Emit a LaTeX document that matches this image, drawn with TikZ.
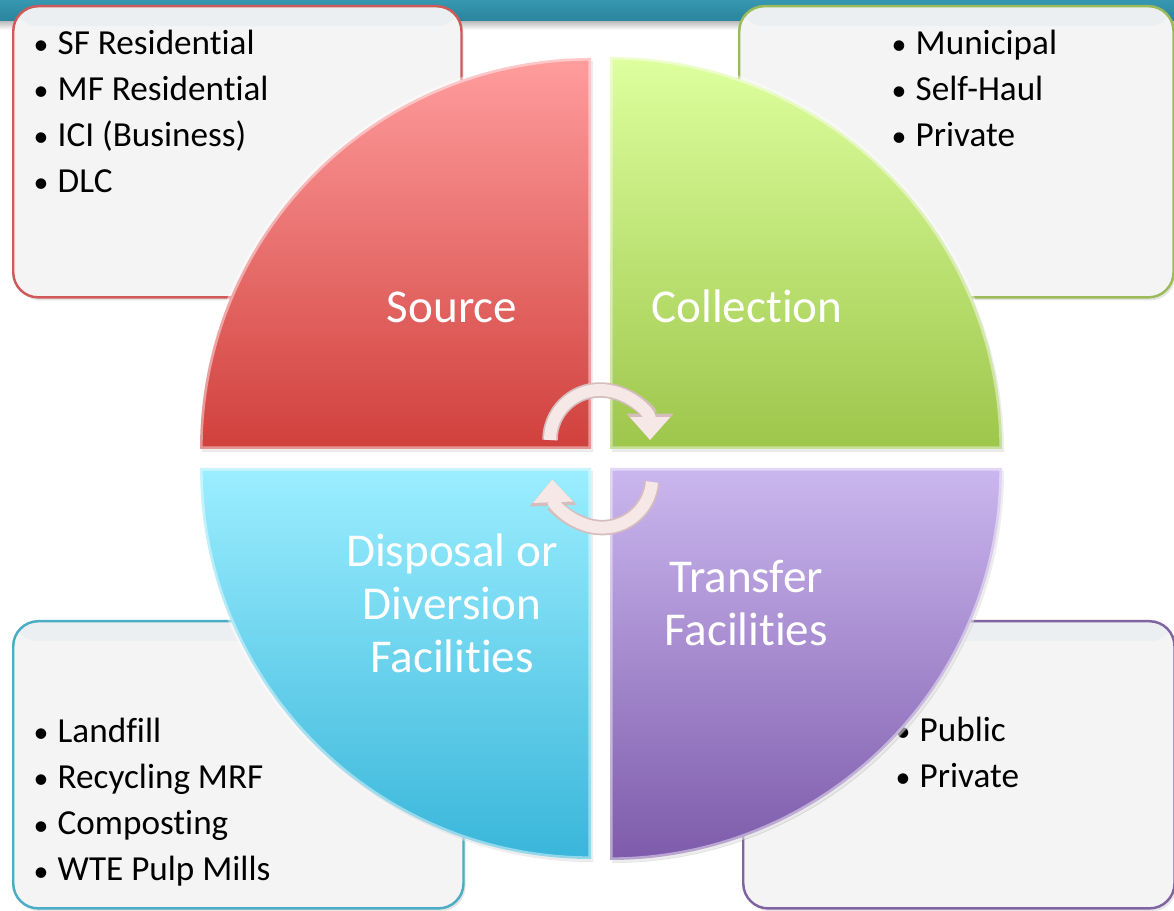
\documentclass[tikz,border=0pt]{standalone}
\usepackage{fontspec}
\setmainfont{Carlito}[Ligatures={NoCommon,NoContextual}, RawFeature={-calt}]
\usetikzlibrary{arrows.meta,shadows}

\definecolor{barlight}{HTML}{3797B1}
\definecolor{bardark}{HTML}{2A849D}
\definecolor{boxgray}{HTML}{F4F4F4}
\definecolor{boxband}{HTML}{EBEFF1}
\definecolor{srcline}{HTML}{D05A5A}
\definecolor{colline}{HTML}{9BBB59}
\definecolor{disline}{HTML}{4BACC6}
\definecolor{trfline}{HTML}{8064A2}
\definecolor{srctop}{HTML}{FF9D9D}
\definecolor{srcbot}{HTML}{D0403C}
\definecolor{coltop}{HTML}{DEFF9E}
\definecolor{colbot}{HTML}{9DC64B}
\definecolor{distop}{HTML}{9CEEFF}
\definecolor{disbot}{HTML}{39B6DA}
\definecolor{trftop}{HTML}{CBB7EF}
\definecolor{trfbot}{HTML}{7D5BAB}
\definecolor{arrowfill}{HTML}{F7E8E8}
\definecolor{arrowedge}{HTML}{D6BDBD}

\newcommand{\itembullet}{\makebox[0.24cm][l]{\scalebox{0.85}{\textbullet}}}

\tikzset{
  infobox/.style={line width=0.7pt, rounded corners=0.25cm, fill=boxgray, anchor=north west,
    drop shadow={opacity=0.2, shadow xshift=0.02cm, shadow yshift=-0.03cm},
    path picture={\fill[boxband] (path picture bounding box.north west) rectangle ([yshift=-0.2cm]path picture bounding box.north east);}},
  item/.style={anchor=base west, inner sep=0pt, font=\fontsize{10}{12}\selectfont},
  quadrant/.style={draw=white, draw opacity=0.45, line width=1.5pt,
    drop shadow={opacity=0.25, shadow xshift=0.02cm, shadow yshift=-0.03cm}},
  seglabel/.style={text=white, align=center, inner sep=0pt, font=\fontsize{13.4}{15.1}\selectfont},
  cyclearrow/.style={draw=arrowfill, line width=3.4pt, -{Triangle[width=11pt,length=6.5pt]},
    preaction={draw=arrowedge, line width=4.4pt, -{Triangle[width=13pt,length=7.5pt]}}}
}

\begin{document}
\begin{tikzpicture}[x=0.01cm,y=0.01cm]
    \clip (0,0) rectangle (1174,910);
    \fill[white] (0,0) rectangle (1174,910);
    \shade[top color=black!30, bottom color=white] (0,880) rectangle (1174,890);
    \shade[top color=barlight, bottom color=bardark] (0,889) rectangle (1174,910);

    \node[infobox, draw=srcline, minimum width=4.48cm, minimum height=2.91cm] (srcbox) at (12,905) {};
    \node[infobox, draw=colline, minimum width=4.34cm, minimum height=2.91cm] (colbox) at (738,905) {};
    \node[infobox, draw=disline, minimum width=4.50cm, minimum height=2.87cm] (disbox) at (12,290) {};
    \node[infobox, draw=trfline, minimum width=4.31cm, minimum height=2.87cm] (trfbox) at (742,290) {};

    \foreach \entry [count=\i] in {SF Residential, MF Residential, ICI (Business), DLC}
        \node[item] (src\i) at (33,901-46*\i) {\itembullet\entry};
    \foreach \entry [count=\i] in {Municipal, Self-Haul, Private}
        \node[item] (col\i) at (891,901-46*\i) {\itembullet\entry};
    \foreach \entry [count=\i] in {Landfill, Recycling MRF, Composting, WTE Pulp Mills}
        \node[item] (dis\i) at (33,213-46*\i) {\itembullet\entry};
    \foreach \entry [count=\i] in {Public, Private}
        \node[item] (trf\i) at (895,214-46*\i) {\itembullet\entry};

    \shade[quadrant, top color=srctop, bottom color=srcbot] (591,461) -- (200,461) arc[start angle=180, end angle=90, radius=391] -- cycle;
    \shade[quadrant, top color=coltop, bottom color=colbot] (610,461) -- (610,853) arc[start angle=90, end angle=0, radius=392] -- cycle;
    \shade[quadrant, top color=distop, bottom color=disbot] (591,442) -- (200,442) arc[start angle=180, end angle=270, radius=391] -- cycle;
    \shade[quadrant, top color=trftop, bottom color=trfbot] (610,442) -- (1002,442) arc[start angle=0, end angle=-90, radius=392] -- cycle;

    \node[seglabel, anchor=base] (source) at (452,587) {Source};
    \node[seglabel, anchor=base] (collection) at (747,587) {Collection};
    \node[seglabel] (disposal) at (452,307) {Disposal or\\Diversion\\Facilities};
    \node[seglabel] (transfer) at (746,307) {Transfer\\Facilities};

    \coordinate (topstart) at (550,470);
    \coordinate (botstart) at (652,428);
    \draw[cyclearrow] (topstart) arc[start angle=180, end angle=0, radius=50];
    \draw[cyclearrow] (botstart) arc[start angle=-5, end angle=-178, radius=50];
\end{tikzpicture}
\end{document}
